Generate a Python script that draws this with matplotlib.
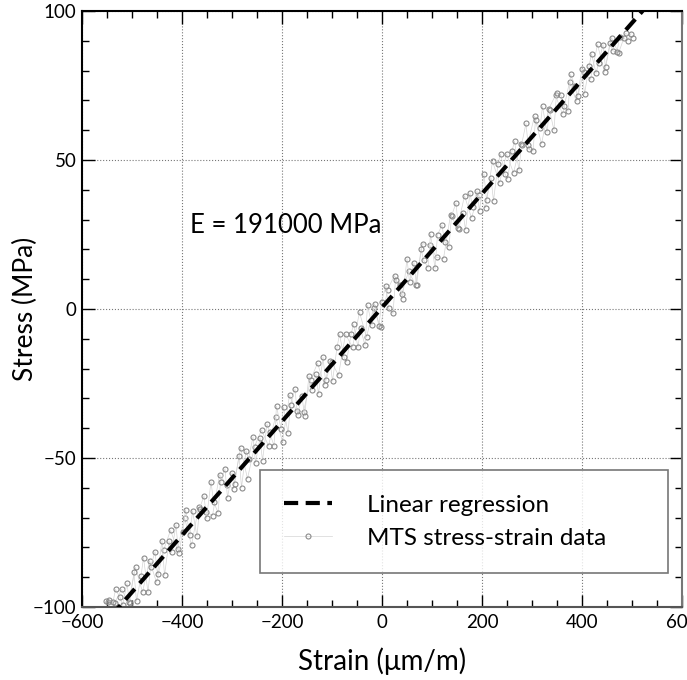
import matplotlib
matplotlib.use("Agg")
import matplotlib.pyplot as plt
import numpy as np
from matplotlib.ticker import MultipleLocator

# ---- data: loading pass ----
strain = [-553, -547, -538, -533, -524, -519, -510, -505, -496, -491,
          -482, -477, -468, -463, -454, -449, -440, -435, -426, -421,
          -412, -407, -398, -393, -384, -379, -370, -365, -356, -351,
          -342, -337, -328, -323, -314, -309, -300, -295, -286, -281,
          -272, -267, -258, -253, -244, -239, -230, -225, -216, -211,
          -202, -197, -188, -183, -174, -169, -160, -155, -146, -141,
          -132, -127, -118, -113, -104, -99, -90, -85, -76, -71,
          -62, -57, -48, -43, -34, -29, -20, -15, -6, -1,
          8, 13, 22, 27, 36, 41, 50, 55, 64, 69,
          78, 83, 92, 97, 106, 111, 120, 125, 134, 139,
          148, 153, 162, 167, 176, 181, 190, 195, 204, 209,
          218, 223, 232, 237, 246, 251, 260, 265, 274, 279,
          288, 293, 302, 307, 316, 321, 330, 335, 344, 349,
          358, 363, 372, 377, 386, 391, 400, 405, 414, 419,
          428, 433, 442, 447, 456, 461, 470, 475, 484, 491, 498]
stress = [-98.1, -97.8, -98.4, -94.1, -96.8, -99.4, -92.1, -98.7, -88.4, -98.1,
          -89.7, -83.4, -95.1, -86.7, -81.4, -89.0, -77.7, -89.4, -78.0, -81.7,
          -72.4, -82.0, -74.7, -67.3, -76.0, -67.7, -76.3, -67.0, -62.7, -70.3,
          -58.0, -64.6, -68.3, -58.0, -53.6, -63.3, -55.0, -58.6, -49.3, -59.9,
          -47.6, -50.3, -42.9, -51.6, -43.3, -50.9, -38.6, -41.3, -45.9, -32.6,
          -40.2, -32.9, -41.6, -32.2, -26.9, -35.6, -29.2, -35.9, -22.5, -27.2,
          -21.9, -28.5, -16.2, -23.9, -17.5, -24.2, -12.9, -8.5, -16.2, -17.8,
          -8.5, -5.2, -12.8, -6.5, -12.2, 1.2, -5.5, 1.8, -5.8, 2.5,
          7.8, 0.2, -1.5, 9.8, 8.2, 3.5, 16.9, 9.2, 15.5, 7.9,
          20.2, 16.5, 13.9, 25.2, 13.6, 24.9, 28.2, 22.6, 20.9, 31.2,
          35.6, 26.9, 32.3, 26.6, 38.9, 34.3, 39.6, 32.9, 45.3, 36.6,
          43.9, 36.3, 48.6, 52.0, 45.3, 43.6, 53.0, 56.3, 46.6, 55.0,
          62.3, 53.7, 53.0, 63.3, 60.7, 68.0, 59.3, 66.7, 60.0, 72.4,
          71.7, 68.0, 66.4, 78.7, 75.0, 71.4, 80.7, 72.1, 81.4, 85.7,
          79.1, 82.4, 88.7, 81.1, 89.4, 86.7, 86.1, 91.4, 90.8, 90.1, 92.4]

# ---- data: unloading pass ----
strain_2 = [-549, -535, -521, -507, -493, -479, -465, -451, -437, -423,
            -409, -395, -381, -367, -353, -339, -325, -311, -297, -283,
            -269, -255, -241, -227, -213, -199, -185, -171, -157, -143,
            -129, -115, -101, -87, -73, -59, -45, -31, -17, -3,
            11, 25, 39, 53, 67, 81, 95, 109, 123, 137,
            151, 165, 179, 193, 207, 221, 235, 249, 263, 277,
            291, 305, 319, 333, 347, 361, 375, 389, 403, 417,
            431, 445, 459, 473, 487, 501]
stress_2 = [-98.4, -98.7, -94.1, -98.4, -86.7, -95.0, -84.4, -91.7, -81.0, -74.3,
            -80.7, -70.0, -79.3, -66.6, -68.0, -69.3, -55.6, -58.9, -60.3, -46.6,
            -56.9, -46.2, -40.6, -45.9, -36.2, -44.5, -28.9, -34.2, -34.5, -23.8,
            -18.2, -25.5, -17.8, -22.2, -8.5, -12.8, -1.1, -9.5, 0.2, -6.1,
            6.5, 11.2, 4.9, 12.6, 8.2, 21.9, 21.6, 17.3, 16.9, 31.6,
            27.3, 38.0, 30.6, 38.3, 34.0, 49.6, 42.3, 52.0, 45.7, 55.3,
            55.0, 64.7, 55.4, 67.0, 71.7, 65.4, 76.1, 69.7, 79.4, 77.1,
            88.8, 79.4, 91.1, 85.8, 92.5, 91.1]

E_mpa = 191000          # Young's modulus (MPa)
intercept = 0.5         # regression intercept (MPa)
fit_strain = [-700, 700]

x_ticks = [-600, -400, -200, 0, 200, 400, 600]
y_ticks = [-100, -50, 0, 50, 100]

plt.rcParams['font.family'] = ['Lato', 'DejaVu Sans']

fig = plt.figure(figsize=(6.87, 6.80), dpi=100)
ax = fig.add_axes([82/687, 73/680, 600/687, 596/680])

data_style = dict(color='#d4d4d4', lw=0.5, marker='o', ms=3.6,
                  mfc='none', mec='#8a8a8a', mew=0.8, zorder=2)
ax.plot(strain_2, stress_2, **data_style)
ax.plot(strain, stress, label='MTS stress-strain data', **data_style)
fit_x = np.array(fit_strain, dtype=float)
fit_y = E_mpa * 1e-6 * fit_x + intercept
ax.plot(fit_x, fit_y, color='black', lw=3, linestyle=(0, (3.4, 1.8)),
        label='Linear regression', zorder=3)

ax.set_xlim(-600, 600)
ax.set_ylim(-100, 100)
ax.set_xticks(x_ticks)
ax.set_yticks(y_ticks)
ax.set_xticklabels(['\u2212600', '\u2212400', '\u2212200', '0', '200', '400', '600'])
ax.set_yticklabels(['\u2212100', '\u221250', '0', '50', '100'])
ax.xaxis.set_minor_locator(MultipleLocator(50))
ax.yaxis.set_minor_locator(MultipleLocator(10))
ax.tick_params(which='both', direction='in', top=True, right=True, labelsize=13.5)
ax.tick_params(axis='x', pad=5)
ax.tick_params(axis='y', pad=4)
ax.tick_params(which='major', length=9, width=1)
ax.tick_params(which='minor', length=5, width=1)
ax.grid(True, which='major', linestyle=':', color='#777777', lw=0.8)
for s in ax.spines.values():
    s.set_linewidth(1.5)
ax.spines['right'].set_color('#777777')
ax.spines['bottom'].set_color('#555555')

ax.set_xlabel('Strain (\u03bcm/m)', fontsize=20, labelpad=12)
ax.set_ylabel('Stress (MPa)', fontsize=19)
ax.yaxis.set_label_coords(-0.074, 0.5)

ax.text(-385, 28, 'E = 191000 MPa', fontsize=18.5, va='center', ha='left')

h, l = ax.get_legend_handles_labels()
leg = ax.legend(h[::-1], l[::-1], loc='lower left',
                bbox_to_anchor=(178/600, 34/596, 408/600, 0.17), mode='expand',
                fontsize=17.5, frameon=True, fancybox=False, handlelength=1.95,
                borderpad=1.0, labelspacing=0.5, handletextpad=1.45, borderaxespad=0)
leg.get_frame().set_edgecolor('#555555')
leg.get_frame().set_linewidth(1.2)

fig.savefig('out.png', dpi=100)
